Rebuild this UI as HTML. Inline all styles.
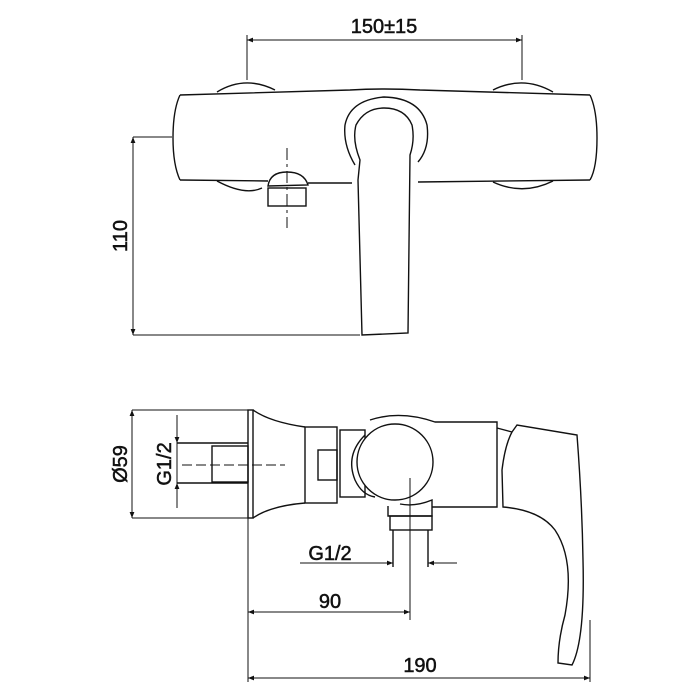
<!DOCTYPE html>
<html><head><style>body{margin:0;background:#fff}svg{display:block}</style></head>
<body>
<svg width="700" height="700" viewBox="0 0 700 700" xmlns="http://www.w3.org/2000/svg" fill="none" stroke="#111" stroke-width="1.4">
<defs>
<marker id="a" viewBox="0 0 10 10" refX="10" refY="5" markerWidth="11" markerHeight="6" orient="auto-start-reverse" markerUnits="userSpaceOnUse"><path d="M0,1 L10,5 L0,9 Z" fill="#111" stroke="none"/></marker>
</defs>
<g font-family="Liberation Sans, sans-serif" font-size="20" fill="#111" stroke="#111" stroke-width="0.5">
<text x="384" y="33" text-anchor="middle">150±15</text>
<text transform="translate(127,236) rotate(-90)" text-anchor="middle">110</text>
<text transform="translate(127,464) rotate(-90)" text-anchor="middle">Ø59</text>
<text transform="translate(171,464) rotate(-90)" text-anchor="middle">G1/2</text>
<text x="330" y="560" text-anchor="middle">G1/2</text>
<text x="330" y="608" text-anchor="middle">90</text>
<text x="420" y="672" text-anchor="middle">190</text>
</g>
<!-- top view dims -->
<line x1="247" y1="35" x2="247" y2="80" stroke-width="1"/>
<line x1="522" y1="35" x2="522" y2="80" stroke-width="1"/>
<line x1="247" y1="40" x2="522" y2="40" stroke-width="1" marker-start="url(#a)" marker-end="url(#a)"/>
<line x1="133" y1="137" x2="172" y2="137" stroke-width="1"/>
<line x1="133" y1="335" x2="360" y2="335" stroke-width="1"/>
<line x1="133" y1="137" x2="133" y2="335" stroke-width="1" marker-start="url(#a)" marker-end="url(#a)"/>
<!-- top view body -->
<path d="M217,92 Q245,75 275,90"/><path d="M493,90 Q523,75 553,92"/>
<path d="M217,181 Q245,196 262,188"/><path d="M493,182 Q523,196 553,181"/>
<path d="M180,95 L350,90 Q384,88 420,90 L590,95"/>
<path d="M180,95 Q173,110 173,138 Q173,165 180,180"/>
<path d="M590,95 Q597,110 597,138 Q597,168 590,180"/>
<path d="M180,180 L268,181 M308,183 L352,183 M418,182 L590,180"/>
<path d="M268,186 Q270,172 287,172 Q304,172 308,185 Z"/>
<rect x="268" y="188" width="38" height="18"/>
<line x1="287" y1="148" x2="287" y2="228" stroke-width="1" stroke-dasharray="12,4,3,4"/>
<path d="M355,165 Q343,145 345,125 Q350,100 384,97 Q420,98 427,125 Q430,148 418,162"/>
<path d="M360,160 Q352,140 356,125 Q365,108 384,108 Q405,108 412,125 Q415,140 410,155 L408,333 L362,335 L358,180 Z"/>
<!-- side view dims -->
<line x1="132" y1="410" x2="248" y2="410" stroke-width="1"/>
<line x1="132" y1="518" x2="248" y2="518" stroke-width="1"/>
<line x1="132" y1="410" x2="132" y2="518" stroke-width="1" marker-start="url(#a)" marker-end="url(#a)"/>
<line x1="177" y1="415" x2="177" y2="508" stroke-width="1"/>
<line x1="177" y1="425" x2="177" y2="443" stroke-width="1" marker-end="url(#a)"/>
<line x1="177" y1="501" x2="177" y2="483" stroke-width="1" marker-end="url(#a)"/>
<line x1="177" y1="443" x2="248" y2="443"/><line x1="177" y1="483" x2="248" y2="483"/>
<rect x="212" y="446" width="36" height="36"/>
<line x1="182" y1="465" x2="285" y2="465" stroke-width="1" stroke-dasharray="10,4"/>
<rect x="248" y="410" width="5" height="108"/>
<path d="M253,410 Q270,422 305,427 M253,518 Q270,506 305,503"/>
<rect x="305" y="427" width="32" height="76"/>
<rect x="318" y="450" width="19" height="30"/>
<rect x="340" y="430" width="25" height="67"/>
<path d="M365,435 Q345,455 355,480 Q362,495 375,497"/>
<path d="M370,420 Q400,410 435,422 L497,422 L497,507 L432,507"/>
<circle cx="395" cy="462" r="38" fill="#fff"/>
<path d="M388,506 L388,516 L432,516 L432,500 Q415,507 400,504"/>
<rect x="390" y="516" width="42" height="14"/>
<line x1="393" y1="530" x2="393" y2="567"/><line x1="428" y1="530" x2="428" y2="567"/>
<line x1="410" y1="478" x2="410" y2="620" stroke-width="1"/>
<line x1="300" y1="563" x2="393" y2="563" stroke-width="1" marker-end="url(#a)"/>
<line x1="457" y1="563" x2="428" y2="563" stroke-width="1" marker-end="url(#a)"/>
<path d="M497,428 L512,432 L517,425 L577,435 Q582,500 583,560 Q585,640 572,665 L558,663 Q558,640 565,615 Q575,560 555,530 Q540,510 503,507 L502,470 Q505,445 512,432"/>
<line x1="248" y1="518" x2="248" y2="682" stroke-width="1"/>
<line x1="590" y1="620" x2="590" y2="682" stroke-width="1"/>
<line x1="248" y1="612" x2="410" y2="612" stroke-width="1" marker-start="url(#a)" marker-end="url(#a)"/>
<line x1="248" y1="678" x2="590" y2="678" stroke-width="1" marker-start="url(#a)" marker-end="url(#a)"/>
</svg>
</body></html>
